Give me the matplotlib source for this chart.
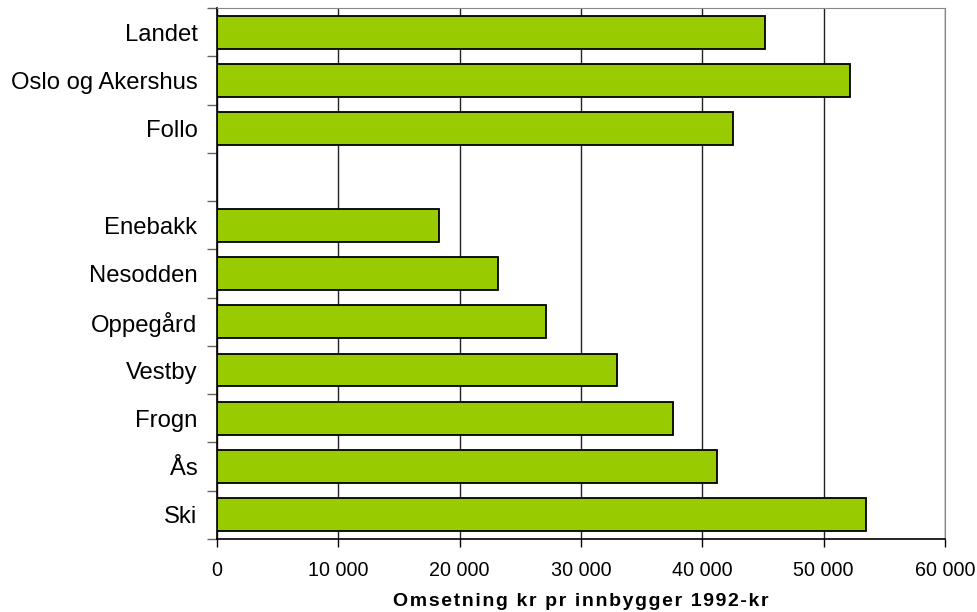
import numpy as np
import matplotlib.pyplot as plt
from matplotlib.ticker import FuncFormatter, MultipleLocator

plt.rcParams['font.family'] = ['Liberation Sans', 'DejaVu Sans']

# Omsetning per innbygger, 1992-kroner
regioner = ['Landet', 'Oslo og Akershus', 'Follo']
region_verdier = [45200, 52200, 42500]

kommuner = ['Enebakk', 'Nesodden', 'Oppegård', 'Vestby', 'Frogn', 'Ås', 'Ski']
kommune_verdier = [18300, 23200, 27150, 32950, 37600, 41200, 53500]

# et tomt felt mellom regionene og kommunene
etiketter = regioner + [''] + kommuner
verdier = region_verdier + [np.nan] + kommune_verdier
ypos = np.arange(len(etiketter))

fig = plt.figure(figsize=(9.77, 6.12), dpi=100)
ax = fig.add_axes([0.2221, 0.1193, 0.7451, 0.8676])

ax.barh(ypos, verdier, height=0.68, color='#99CC00', edgecolor='black',
        linewidth=1.3, zorder=3)

ax.set_xlim(0, 60000)
ax.set_ylim(len(etiketter) - 0.5, -0.5)

ax.xaxis.set_major_locator(MultipleLocator(10000))
ax.xaxis.set_major_formatter(FuncFormatter(lambda v, p: f'{int(v):,}'.replace(',', ' ')))
ax.grid(axis='x', color='#222222', linewidth=1, zorder=0)

# kategorinavn uten streker, streker mellom kategoriene
ax.set_yticks(ypos)
ax.set_yticklabels(etiketter)
ax.set_yticks(np.arange(len(etiketter) + 1) - 0.5, minor=True)
ax.tick_params(axis='y', which='major', length=0, pad=14, labelsize=17.2)
ax.tick_params(axis='y', which='minor', length=7, width=1, color='#666666')
ax.tick_params(axis='x', length=6, width=1, pad=10, labelsize=14.2)

for side in ['top', 'right']:
    ax.spines[side].set_color('#888888')
for side in ['left', 'bottom']:
    ax.spines[side].set_color('black')
    ax.spines[side].set_linewidth(1.2)

# sperret tekst på aksetittelen
tittel = 'Omsetning kr pr innbygger 1992-kr'
ax.set_xlabel('\u200a'.join(tittel), fontsize=14, fontweight='bold', labelpad=9)

plt.savefig('out.png', dpi=100)
